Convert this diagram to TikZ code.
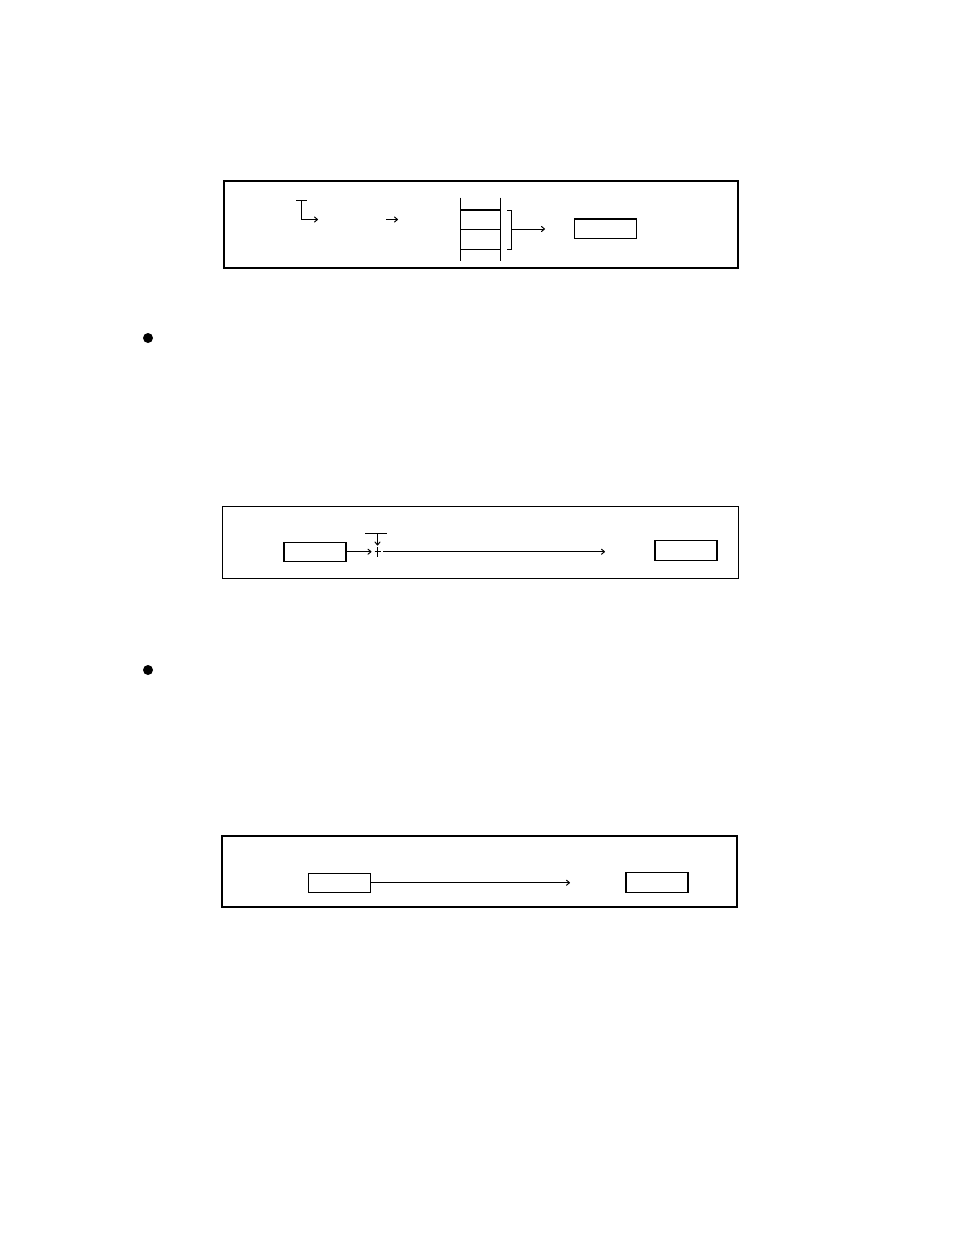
\documentclass[tikz,border=0pt]{standalone}
\usetikzlibrary{arrows.meta}
\begin{document}
\begin{tikzpicture}[x=1pt,y=-1pt,
  >={To[length=4pt,width=6pt]},
  frame/.style={draw,line width=1.8pt,inner sep=0pt,outer sep=0pt},
  thinframe/.style={draw,line width=1pt,inner sep=0pt,outer sep=0pt},
  cell/.style={draw,line width=1.1pt,inner sep=0pt,outer sep=0pt,minimum width=62pt,minimum height=19.5pt},
  conn/.style={line width=1pt,->},
  plain/.style={line width=1pt}]
\useasboundingbox (0,0) rectangle (954,1235);
% ---------- panel 1 ----------
\node[frame,minimum width=514pt,minimum height=87pt] (f1) at (481,224.5) {};
\coordinate (t1a) at (296,200.5);
\coordinate (t1b) at (307,200.5);
\coordinate (t1c) at (301,200.5);
\coordinate (t1d) at (301,219.5);
\coordinate (t1e) at (318,219.5);
\draw[plain] (t1a) -- (t1b);
\draw[conn] (t1c) -- (t1d) -- (t1e);
\coordinate (a1s) at (386,219.5);
\coordinate (a1e) at (398,219.5);
\draw[conn] (a1s) -- (a1e);
% ladder
\coordinate (l1t) at (460,197.5);
\coordinate (l1b) at (460,260.5);
\coordinate (l2t) at (500,197.5);
\coordinate (l2b) at (500,260.5);
\draw[plain] (l1t) -- (l1b);
\draw[plain] (l2t) -- (l2b);
\draw[line width=1.6pt] (460,209.8) -- (500,209.8);
\draw[plain] (460,229) -- (500,229);
\draw[plain] (460,249) -- (500,249);
% bracket
\coordinate (b1) at (507,210);
\coordinate (b2) at (511.5,210);
\coordinate (b3) at (511.5,249);
\coordinate (b4) at (507,249);
\coordinate (bm) at (511.5,229);
\draw[plain] (b1) -- (b2) -- (b3) -- (b4);
\node[cell,line width=1.8pt] (r1) at (605.5,228.7) {};
\coordinate (bmend) at (545,229);
\draw[conn] (bm) -- (bmend);
% bullet 1
\fill (148,338) circle (5pt);
% ---------- panel 2 ----------
\node[thinframe,minimum width=516pt,minimum height=72pt] (f2) at (480,542.5) {};
\node[cell] (p2a) at (315,551.8) {};
\node[cell] (p2b) at (686,550.5) {};
\draw[line width=1.8pt] (717,540.5) -- (717,560.5);
\coordinate (j) at (377.5,551.7);
\coordinate (jl) at (371.5,551.7);
\coordinate (tb1) at (365,533);
\coordinate (tb2) at (387,533);
\coordinate (tbm) at (377.5,533);
\coordinate (tbe) at (377.5,545.5);
\draw[plain] (tb1) -- (tb2);
\draw[conn] (tbm) -- (tbe);
\draw[conn] (p2a.east |- jl) -- (jl);
\draw[plain] (377.5,547) -- (377.5,557);
\draw[plain] (374.5,551.7) -- (380.5,551.7);
\coordinate (j2s) at (383,551.7);
\coordinate (j2e) at (605,551.7);
\draw[conn] (j2s) -- (j2e);
% bullet 2
\fill (148,670) circle (5pt);
% ---------- panel 3 ----------
\node[frame,minimum width=515pt,minimum height=71pt] (f3) at (479.5,871.2) {};
\node[cell] (p3a) at (339.5,882.8) {};
\node[cell] (p3b) at (657,882.3) {};
\coordinate (p3e) at (570,882.7);
\draw[conn] (p3a.east |- p3e) -- (p3e);
\end{tikzpicture}
\end{document}
